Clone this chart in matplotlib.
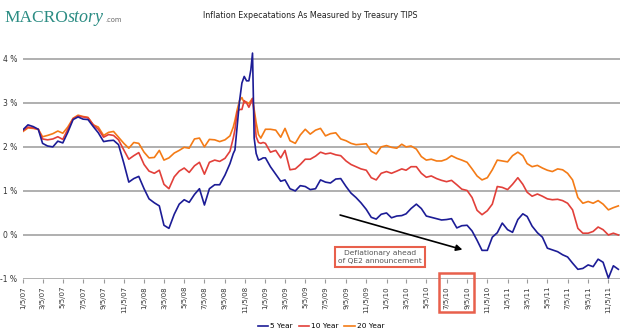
import matplotlib
matplotlib.use("Agg")
import matplotlib.pyplot as plt
import matplotlib.patches as patches
import pandas as pd

# breakeven inflation, % (5y, 10y, 20y TIPS)
dates = [
    "2007-01-05", "2007-01-20", "2007-02-05", "2007-02-20", "2007-03-05", "2007-03-20",
    "2007-04-05", "2007-04-20", "2007-05-05", "2007-05-20", "2007-06-05", "2007-06-20",
    "2007-07-05", "2007-07-20", "2007-08-05", "2007-08-20", "2007-09-05", "2007-09-20",
    "2007-10-05", "2007-10-20", "2007-11-05", "2007-11-20", "2007-12-05", "2007-12-20",
    "2008-01-05", "2008-01-20", "2008-02-05", "2008-02-20", "2008-03-05", "2008-03-20",
    "2008-04-05", "2008-04-20", "2008-05-05", "2008-05-20", "2008-06-05", "2008-06-20",
    "2008-07-05", "2008-07-20", "2008-08-05", "2008-08-20", "2008-09-05", "2008-09-20",
    "2008-09-30", "2008-10-05", "2008-10-12", "2008-10-19", "2008-10-26", "2008-11-02",
    "2008-11-09", "2008-11-16", "2008-11-22", "2008-11-27", "2008-12-02", "2008-12-08",
    "2008-12-15", "2008-12-22", "2008-12-29",
    "2009-01-05", "2009-01-20", "2009-02-05", "2009-02-20", "2009-03-05", "2009-03-20",
    "2009-04-05", "2009-04-20", "2009-05-05", "2009-05-20", "2009-06-05", "2009-06-20",
    "2009-07-05", "2009-07-20", "2009-08-05", "2009-08-20", "2009-09-05", "2009-09-20",
    "2009-10-05", "2009-10-20", "2009-11-05", "2009-11-20", "2009-12-05", "2009-12-20",
    "2010-01-05", "2010-01-20", "2010-02-05", "2010-02-20", "2010-03-05", "2010-03-20",
    "2010-04-05", "2010-04-20", "2010-05-05", "2010-05-20", "2010-06-05", "2010-06-20",
    "2010-07-05", "2010-07-20", "2010-08-05", "2010-08-20", "2010-09-05", "2010-09-20",
    "2010-10-05", "2010-10-20", "2010-11-05", "2010-11-20", "2010-12-05", "2010-12-20",
    "2011-01-05", "2011-01-20", "2011-02-05", "2011-02-20", "2011-03-05", "2011-03-20",
    "2011-04-05", "2011-04-20", "2011-05-05", "2011-05-20", "2011-06-05", "2011-06-20",
    "2011-07-05", "2011-07-20", "2011-08-05", "2011-08-20", "2011-09-05", "2011-09-20",
    "2011-10-05", "2011-10-20", "2011-11-05", "2011-11-20", "2011-12-05",
]

five_year = [
    2.39, 2.50, 2.46, 2.40, 2.08, 2.02, 2.00, 2.13, 2.09, 2.33, 2.62, 2.68,
    2.63, 2.62, 2.46, 2.32, 2.12, 2.14, 2.15, 2.05, 1.63, 1.20, 1.28, 1.33,
    1.05, 0.82, 0.73, 0.66, 0.22, 0.15, 0.47, 0.70, 0.80, 0.74, 0.92, 1.05,
    0.68, 1.05, 1.14, 1.14, 1.36, 1.62,
    1.85, 1.93, 2.50, 3.05, 3.45, 3.60, 3.50, 3.50, 3.75, 4.13, 2.20, 1.85,
    1.70, 1.72, 1.75,
    1.75, 1.55, 1.38, 1.22, 1.25, 1.05, 1.00, 1.12, 1.10, 1.03, 1.05, 1.25,
    1.20, 1.18, 1.27, 1.28, 1.10, 0.95, 0.85, 0.73, 0.58, 0.40, 0.36, 0.47,
    0.50, 0.39, 0.43, 0.44, 0.48, 0.60, 0.70, 0.60, 0.43, 0.40, 0.37, 0.34,
    0.35, 0.37, 0.16, 0.21, 0.22, 0.09, -0.12, -0.35, -0.35, -0.05, 0.05, 0.27,
    0.12, 0.06, 0.35, 0.48, 0.42, 0.20, 0.05, -0.05, -0.30, -0.34, -0.38, -0.45,
    -0.50, -0.64, -0.78, -0.76, -0.68, -0.72, -0.55, -0.62, -0.98, -0.70, -0.78,
]

ten_year = [
    2.37, 2.45, 2.43, 2.40, 2.18, 2.16, 2.18, 2.23, 2.17, 2.40, 2.64, 2.70,
    2.68, 2.66, 2.50, 2.40, 2.22, 2.28, 2.26, 2.16, 1.93, 1.72, 1.80, 1.87,
    1.60, 1.45, 1.40, 1.47, 1.15, 1.05, 1.32, 1.45, 1.52, 1.42, 1.57, 1.65,
    1.38, 1.65, 1.70, 1.67, 1.74, 1.90,
    2.20, 2.39, 2.80, 2.85, 2.85, 3.05, 3.00, 2.90, 3.00, 3.10, 2.75, 2.23,
    2.10, 2.08, 2.10,
    2.08, 1.88, 1.92, 1.75, 1.92, 1.48, 1.50, 1.60, 1.72, 1.72, 1.79, 1.88,
    1.84, 1.86, 1.82, 1.80, 1.68, 1.60, 1.55, 1.50, 1.47, 1.30, 1.25, 1.40,
    1.44, 1.40, 1.45, 1.50, 1.47, 1.55, 1.55, 1.40, 1.31, 1.34, 1.28, 1.24,
    1.21, 1.24, 1.14, 1.04, 1.01, 0.85, 0.56, 0.46, 0.55, 0.70, 1.10, 1.08,
    1.03, 1.15, 1.30, 1.15, 0.97, 0.88, 0.93, 0.88, 0.82, 0.80, 0.81, 0.78,
    0.72, 0.57, 0.15, 0.04, 0.04, 0.08, 0.18, 0.12, 0.00, 0.04, 0.00,
]

twenty_year = [
    2.35, 2.43, 2.42, 2.40, 2.23, 2.26, 2.30, 2.36, 2.31, 2.45, 2.65, 2.72,
    2.69, 2.67, 2.50, 2.45, 2.26, 2.33, 2.35, 2.22, 2.08, 1.97, 2.10, 2.08,
    1.88, 1.75, 1.76, 1.92, 1.70, 1.75, 1.86, 1.92, 1.99, 1.97, 2.18, 2.20,
    2.00, 2.17, 2.16, 2.12, 2.16, 2.25,
    2.45, 2.60, 2.85, 3.05, 3.12, 3.00, 3.02, 2.98, 3.05, 3.10, 2.85, 2.55,
    2.28, 2.20, 2.30,
    2.40, 2.40, 2.38, 2.22, 2.42, 2.14, 2.08, 2.27, 2.40, 2.29, 2.38, 2.42,
    2.25, 2.30, 2.32, 2.18, 2.14, 2.08, 2.05, 2.06, 2.07, 1.90, 1.84, 2.00,
    2.03, 1.99, 1.97, 2.06, 2.00, 2.02, 1.95, 1.78, 1.70, 1.72, 1.68, 1.68,
    1.72, 1.80, 1.74, 1.70, 1.65, 1.50, 1.34, 1.25, 1.30, 1.48, 1.70, 1.68,
    1.66, 1.80, 1.88, 1.80, 1.62, 1.55, 1.58, 1.52, 1.47, 1.44, 1.50, 1.48,
    1.40, 1.25, 0.85, 0.72, 0.76, 0.72, 0.78, 0.70, 0.57, 0.62, 0.66,
]

series_labels = ["5 Year", "10 Year", "20 Year"]
y_ticks = [-1, 0, 1, 2, 3, 4]

x = pd.to_datetime(dates)
tick_dates = pd.date_range("2007-01-01", "2011-11-01", freq="2MS") + pd.Timedelta(days=4)
tick_labels = [f"{d.month}/{d.day}/{d:%y}" for d in tick_dates]

fig = plt.figure(figsize=(6.2, 3.34), dpi=100)
ax = fig.add_axes([23 / 620, 1 - 279 / 334, 597 / 620, 229 / 334])

blue, red, orange = "#1c1c96", "#e2403a", "#f47b16"
ax.plot(x, five_year, color=blue, lw=1.2, label=series_labels[0], zorder=4)
ax.plot(x, ten_year, color=red, lw=1.2, label=series_labels[1], zorder=3)
ax.plot(x, twenty_year, color=orange, lw=1.2, label=series_labels[2], zorder=2)

ax.set_xlim(pd.Timestamp("2007-01-05"), pd.Timestamp("2011-12-10"))
ax.set_ylim(-1, 4.2)

for v in y_ticks:
    ax.axhline(v, color="#9a9a9a", lw=1.1, zorder=1)
for s in ax.spines.values():
    s.set_visible(False)

ax.set_yticks(y_ticks)
ax.set_yticklabels([f"{v} %" for v in y_ticks], fontsize=5.5, color="#333333")
ax.tick_params(axis="y", length=0, pad=4)
ax.set_xticks(tick_dates)
ax.set_xticklabels(tick_labels, rotation=90, fontsize=5, color="#333333", va="top")
ax.tick_params(axis="x", length=3, width=0.8, color="#9a9a9a", pad=2)

# title and logo
fig.text(0.5, 1 - 15 / 334, "Inflation Expecatations As Measured by Treasury TIPS",
         ha="center", va="center", fontsize=5.8, color="#222222")

fig.canvas.draw()
renderer = fig.canvas.get_renderer()
base_y = 1 - 22 / 334
t1 = fig.text(4 / 620, base_y, "MACRO", fontsize=12.5, family="Liberation Serif",
              color="#2b8c83", va="baseline")
bb = t1.get_window_extent(renderer)
t2 = fig.text(bb.x1 / 620, base_y, "story", fontsize=13, family="Liberation Serif",
              style="italic", color="#2b8c83", va="baseline")
bb = t2.get_window_extent(renderer)
fig.text(bb.x1 / 620 + 0.002, base_y, ".com", fontsize=4.8, family="DejaVu Sans",
         color="#666666", va="baseline")

# annotation: arrow and boxed note
ax.annotate("", xy=(pd.Timestamp("2010-08-30"), -0.35), xytext=(pd.Timestamp("2009-08-10"), 0.47),
            arrowprops=dict(arrowstyle="-|>", color="black", lw=1.2, mutation_scale=9),
            zorder=5)
fig.text(380 / 620, 1 - 257 / 334, "Deflationary ahead\nof QE2 announcement",
         ha="center", va="center", fontsize=5.4, color="#555555", linespacing=1.3,
         bbox=dict(boxstyle="square,pad=0.45", fc="white", ec="#e8604c", lw=1.5))

# highlight the QE2 window on the date axis
fig.add_artist(patches.Rectangle((439 / 620, 1 - 312 / 334), 35 / 620, 39 / 334,
                                 transform=fig.transFigure, fill=False,
                                 ec="#e8604c", lw=1.8))

ax.legend(loc="center", bbox_to_anchor=(321 / 620, 1 - 326 / 334),
          bbox_transform=fig.transFigure, ncol=3, frameon=False, fontsize=5.3,
          handlelength=1.4, handletextpad=0.3, columnspacing=0.8)

fig.savefig("out.png", dpi=100)
